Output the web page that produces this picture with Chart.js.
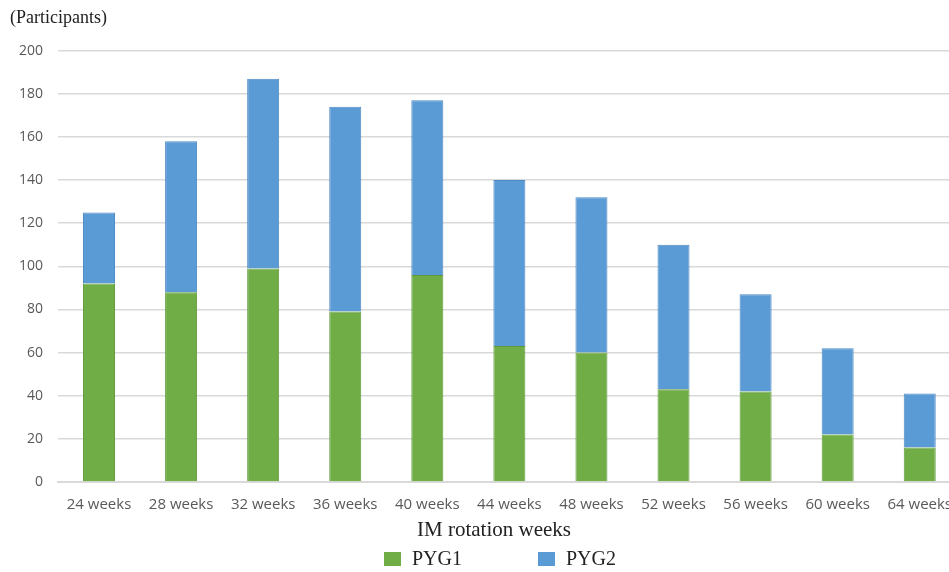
<!DOCTYPE html>
<html>
<head>
<meta charset="utf-8">
<script src="https://cdn.jsdelivr.net/npm/chart.js@4"></script>
<style>
  html, body { margin: 0; padding: 0; background: #fff; overflow: hidden; }
  #wrap { width: 966px; height: 572px; }
</style>
</head>
<body>
<div id="wrap"><canvas id="myChart"></canvas></div>
<script>
const weeks = ['24 weeks', '28 weeks', '32 weeks', '36 weeks', '40 weeks', '44 weeks',
  '48 weeks', '52 weeks', '56 weeks', '60 weeks', '64 weeks']
const pyg1 = [92, 88, 99, 79, 96, 63, 60, 43, 42, 22, 16]
const pyg2 = [33, 70, 88, 95, 81, 77, 72, 67, 45, 40, 25]
const yTicks = [0, 20, 40, 60, 80, 100, 120, 140, 160, 180, 200]
const xTitle = 'IM rotation weeks'

const serif = '"Liberation Serif", "Times New Roman", serif'
const sans = '"Open Sans", sans-serif'

// axis title + legend drawn below the x labels, placed like the original
const bottomLegend = {
  id: 'bottomLegend',
  afterDraw(chart) {
    const ctx = chart.ctx
    const sets = chart.data.datasets
    ctx.save()
    ctx.textBaseline = 'middle'
    ctx.textAlign = 'center'
    ctx.fillStyle = '#222'
    ctx.font = '21px ' + serif
    ctx.fillText(xTitle, 494, 530)

    ctx.textAlign = 'left'
    ctx.font = '20px ' + serif
    let x = 384
    const y = 559
    sets.forEach(ds => {
      ctx.fillStyle = ds.backgroundColor
      ctx.fillRect(x, y - 7, 17, 14)
      ctx.fillStyle = '#222'
      ctx.fillText(ds.label, x + 28, y + 1)
      x += 154
    })
    ctx.restore()
  }
}

const data = {
  labels: weeks,
  datasets: [{
    label: 'PYG1',
    data: pyg1,
    backgroundColor: '#70AD47',
    borderColor: '#5E9A3A',
    borderWidth: 1
  }, {
    label: 'PYG2',
    data: pyg2,
    backgroundColor: '#5B9BD5',
    borderColor: '#4C88C2',
    borderWidth: 1
  }]
}

const config = {
  type: 'bar',
  data: data,
  options: {
    responsive: true,
    maintainAspectRatio: false,
    animation: false,
    categoryPercentage: 1,
    barPercentage: 0.39,
    layout: { padding: { left: 10, right: 0, top: 0, bottom: 29 } },
    plugins: {
      legend: { display: false },
      tooltip: { enabled: false },
      title: {
        display: true,
        text: '(Participants)',
        align: 'start',
        color: '#222',
        font: { family: serif, size: 18, weight: 'normal' },
        padding: { top: 7, bottom: 22 }
      }
    },
    scales: {
      x: {
        stacked: true,
        afterFit: scale => { scale.height = 61 },
        grid: { display: false, drawTicks: false },
        border: { display: true, color: '#d9d9d9', width: 2 },
        ticks: { color: '#595959', font: { family: sans, size: 15 }, padding: 14, maxRotation: 0 }
      },
      y: {
        stacked: true,
        min: 0,
        max: 200,
        afterBuildTicks: scale => { scale.ticks = yTicks.map(v => ({ value: v })) },
        afterFit: scale => { scale.width = 48 },
        grid: { color: '#d9d9d9', lineWidth: 1.5, drawTicks: false },
        border: { display: false },
        ticks: { color: '#595959', font: { family: sans, size: 14 }, padding: 15 }
      }
    }
  },
  plugins: [bottomLegend]
}

const myChart = new Chart(document.getElementById('myChart'), config)
</script>
</body>
</html>
